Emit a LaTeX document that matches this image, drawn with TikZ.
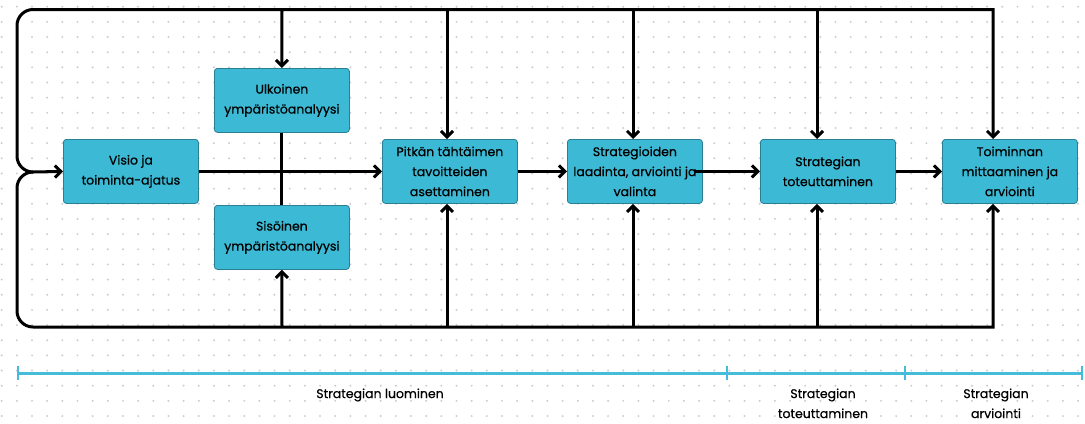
\documentclass[tikz,border=0pt]{standalone}
\usepackage{fontspec}
\setmainfont{Poppins}[FakeBold=0.6]
\usetikzlibrary{arrows.meta}
\definecolor{boxfill}{HTML}{3CB9D4}
\definecolor{boxline}{HTML}{2A7F92}
\definecolor{tl}{HTML}{45BDD8}
\definecolor{dotc}{HTML}{C9CDD8}
\tikzset{
  box/.style={draw=boxline, line width=0.8bp, fill=boxfill, rounded corners=3bp,
    minimum width=135bp, minimum height=64bp, inner sep=2bp, align=center,
    font=\fontsize{12.5bp}{20bp}\selectfont, text=black, anchor=north west},
  conn/.style={line width=3bp, black},
  arr/.style={conn, -{Straight Barb[length=6bp,width=12bp,line width=3bp]}},
  tlabel/.style={font=\fontsize{12.5bp}{20bp}\selectfont, align=center, anchor=north}
}
\begin{document}
\begin{tikzpicture}[x=1bp,y=-1bp]
\useasboundingbox (0,0) rectangle (1085,423);
\fill[white] (0,0) rectangle (1085,423);
% dot grid
\foreach \i in {0,...,71}{
  \foreach \j in {0,...,27}{
    \fill[dotc] ({1.7+15.16*\i},{6.7+15.16*\j}) circle (1.1bp);
  }
}
% nodes
\node[box] (visio) at (63,139) {Visio ja\\toiminta-ajatus};
\node[box] (ulk) at (214,68) {Ulkoinen\\ympäristöanalyysi};
\node[box] (sis) at (214,205) {Sisöinen\\ympäristöanalyysi};
\node[box] (pit) at (382,139) {Pitkän tähtäimen\\tavoitteiden\\asettaminen};
\node[box] (str) at (567,139) {Strategioiden\\laadinta, arviointi ja\\valinta};
\node[box] (tot) at (760,139) {Strategian\\toteuttaminen};
\node[box] (toi) at (942,139) {Toiminnan\\mittaaminen ja\\arviointi};
% coordinates of loop
\coordinate (tl) at (17,9.5);
\coordinate (tr) at (993,9.5);
\coordinate (bl) at (17,327);
\coordinate (br) at (993,327);
\coordinate (join) at (33,172);
\coordinate (jc) at (17,172);
% vertical link between analyses
\draw[conn] (ulk.south) -- (sis.north);
% loop
\draw[arr, line join=miter, rounded corners=16bp] (join) -- (jc) -- (tl) [sharp corners] -- (tr) -- (toi.north -| tr);
\draw[arr, line join=miter, rounded corners=16bp] (join) -- (jc) -- (bl) [sharp corners] -- (br) -- (toi.south -| br);
\draw[arr] (join) -- (visio.west);
% top arrows
\draw[arr] (282,9.5) -- (ulk.north);
\draw[arr] (447,9.5) -- (pit.north -| 447,0);
\draw[arr] (633,9.5) -- (str.north -| 633,0);
\draw[arr] (817,9.5) -- (tot.north -| 817,0);
% bottom arrows
\draw[arr] (282,327) -- (sis.south);
\draw[arr] (447,327) -- (pit.south -| 447,0);
\draw[arr] (633,327) -- (str.south -| 633,0);
\draw[arr] (817,327) -- (tot.south -| 817,0);
% horizontal arrows
\draw[arr] (visio.east) -- (pit.west);
\draw[arr] (pit.east) -- (str.west);
\draw[arr] ([xshift=-8bp]str.east) -- (tot.west);
\draw[arr] (tot.east) -- (toi.west);
% timeline
\coordinate (t0) at (18,373);
\coordinate (t1) at (727,373);
\coordinate (t2) at (905,373);
\coordinate (t3) at (1082,373);
\draw[tl, line width=3bp] (t0) -- (t3);
\foreach \p in {t0,t1,t2,t3}{\draw[tl, line width=2.5bp] ([yshift=-7bp]\p) -- ([yshift=7bp]\p);}
\node[tlabel] (l1) at (380,385) {Strategian luominen};
\node[tlabel] (l2) at (823,385) {Strategian\\toteuttaminen};
\node[tlabel] (l3) at (996,385) {Strategian\\arviointi};
\end{tikzpicture}
\end{document}
